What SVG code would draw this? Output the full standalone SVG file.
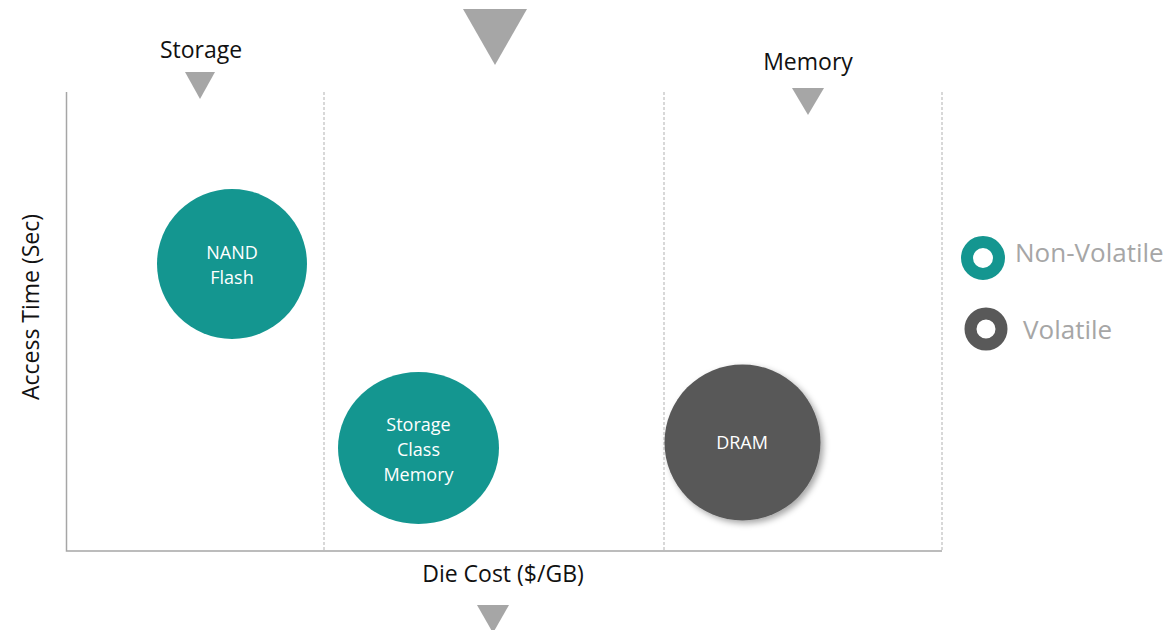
<svg xmlns="http://www.w3.org/2000/svg" width="1169" height="630" viewBox="0 0 1169 630">
<style>
  .lbl { font-family: "Open Sans", "Liberation Sans", sans-serif; font-size: 23px; fill: #111; }
  .in { font-family: "Open Sans", "Liberation Sans", sans-serif; font-size: 18px; fill: #ffffff; text-anchor: middle; }
  .leg { font-family: "Open Sans", "Liberation Sans", sans-serif; font-size: 26px; fill: #a6a6a6; }
  .tri { fill: #a6a6a6; }
  .axis { stroke: #a6a6a6; stroke-width: 1.5; fill: none; }
  .dash { stroke: #bfbfbf; stroke-width: 1.2; stroke-dasharray: 3 2; fill: none; }
  .teal { fill: #149690; }
  .dark { fill: #595959; }
</style>
<defs>
  <filter id="sh" x="-20%" y="-20%" width="150%" height="150%">
    <feDropShadow dx="3" dy="3" stdDeviation="3" flood-color="#000" flood-opacity="0.35"/>
  </filter>
</defs>
<rect width="1169" height="630" fill="#ffffff"/>

<g id="axes">
  <line class="dash" x1="324" y1="92" x2="324" y2="551"/>
  <line class="dash" x1="664" y1="92" x2="664" y2="551"/>
  <line class="dash" x1="942" y1="92" x2="942" y2="551"/>
  <polyline class="axis" points="66.5,92 66.5,551 942,551"/>
  <text class="lbl" x="503" y="582" text-anchor="middle">Die Cost ($/GB)</text>
  <text class="lbl" transform="translate(39,307) rotate(-90)" text-anchor="middle">Access Time (Sec)</text>
</g>

<g id="markers">
  <polygon class="tri" points="463,9 527,9 495,65"/>
  <polygon class="tri" points="185,72 215,72 200,99"/>
  <polygon class="tri" points="792,88 824,88 808,115"/>
  <polygon class="tri" points="477,605 509,605 493,633"/>
  <text class="lbl" x="201" y="58" text-anchor="middle">Storage</text>
  <text class="lbl" x="808" y="70" text-anchor="middle">Memory</text>
</g>

<g id="nand">
  <circle class="teal" cx="232" cy="264" r="75"/>
  <text class="in" x="232" y="259">NAND</text>
  <text class="in" x="232" y="284">Flash</text>
</g>

<g id="scm">
  <ellipse class="teal" cx="418.5" cy="448" rx="80.5" ry="76"/>
  <text class="in" x="418.5" y="431">Storage</text>
  <text class="in" x="418.5" y="456">Class</text>
  <text class="in" x="418.5" y="481">Memory</text>
</g>

<g id="dram">
  <circle class="dark" cx="742.5" cy="442.5" r="78" filter="url(#sh)"/>
  <text class="in" x="742" y="449">DRAM</text>
</g>

<g id="legend">
  <circle cx="983" cy="258" r="16" fill="none" stroke="#149690" stroke-width="12"/>
  <text class="leg" x="1015" y="262">Non-Volatile</text>
  <circle cx="986" cy="329" r="15.5" fill="none" stroke="#595959" stroke-width="12"/>
  <text class="leg" x="1023" y="339">Volatile</text>
</g>
</svg>
